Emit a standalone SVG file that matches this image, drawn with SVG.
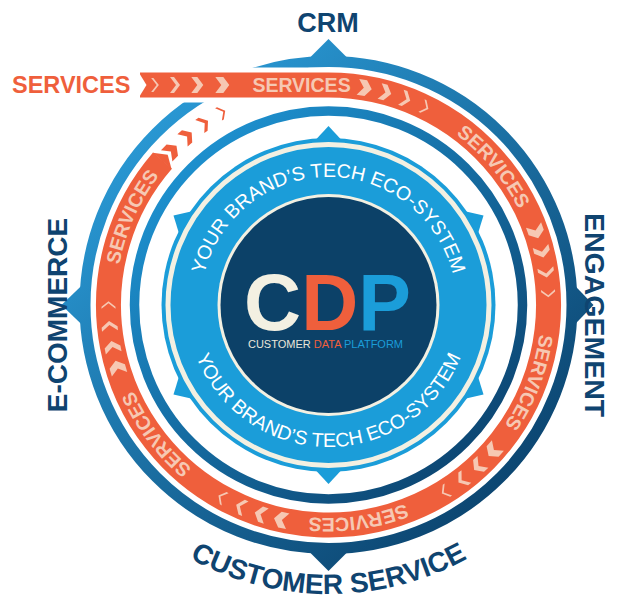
<svg xmlns="http://www.w3.org/2000/svg" xmlns:xlink="http://www.w3.org/1999/xlink" width="620" height="600" viewBox="0 0 620 600">
<style>
.lbl{font-family:"Liberation Sans",Arial,sans-serif;font-weight:bold;fill:#0f4470}
.svc{font-family:"Liberation Sans",Arial,sans-serif;font-weight:bold;font-size:19.5px;fill:#f6c8b3}
.eco{font-family:"Liberation Sans",Arial,sans-serif;font-size:19.5px;fill:#ffffff}
.chev{fill:#f6c8b3}
.ochev{fill:#ef5f3c}
.badgept{fill:#1b9dd9}
</style>
<defs>
<linearGradient id="gOuter" gradientUnits="userSpaceOnUse" x1="-180" y1="-200" x2="180" y2="200">
<stop offset="0" stop-color="#2a9ad6"/>
<stop offset="1" stop-color="#0b436e"/>
</linearGradient>
<linearGradient id="gInner" gradientUnits="userSpaceOnUse" x1="-150" y1="-160" x2="150" y2="160">
<stop offset="0" stop-color="#1e93d2"/>
<stop offset="1" stop-color="#0c4470"/>
</linearGradient>
<polygon id="c1" points="-3.85,-7 -1.65,-7 3.85,0 -1.65,7 -3.85,7 1.65,0"/>
<polygon id="c2" points="-5,-8 -1,-8 5,0 -1,8 -5,8 1,0"/>
<polygon id="c3" points="-6,-8 0,-8 6,0 0,8 -6,8 0,0"/>
<polygon id="c4" points="-7,-8 1,-8 7,0 1,8 -7,8 -1,0"/>
<path id="svcPath" d="M0 -213 A213 213 0 1 1 0 213 A213 213 0 1 1 0 -213"/>
<path id="ecoTop" d="M0 128 A128 128 0 1 1 0 -128 A128 128 0 1 1 0 128"/>
<path id="ecoBot" d="M0 -142 A142 142 0 1 0 0 142 A142 142 0 1 0 0 -142"/>
<path id="csPath" d="M0 -289 A289 289 0 1 0 0 289 A289 289 0 1 0 0 -289"/>
</defs>
<rect width="620" height="600" fill="#ffffff"/>
<g transform="translate(328.5 305)">
<g id="outer-ring">
<circle r="243.5" fill="none" stroke="url(#gOuter)" stroke-width="11"/>
<path d="M-26 -240 L0 -266 L26 -240 Z" fill="url(#gOuter)"/>
<path d="M240 -26 L265 0 L240 26 Z" fill="url(#gOuter)"/>
<path d="M-26 240 L0 266 L26 240 Z" fill="url(#gOuter)"/>
<path d="M-240 -26 L-267 0 L-240 26 Z" fill="url(#gOuter)"/>
</g>
<g id="services-band">
<path d="M-190 -220 H0" fill="none" stroke="#ffffff" stroke-width="35"/>
<path d="M-188.5 -220 H0 A220 220 0 1 1 -166.03 -144.33" fill="none" stroke="#ef5f3c" stroke-width="25"/>
<polygon points="-190,-233 -182,-220 -190,-207" fill="#ffffff"/>
<polygon points="-0.5,-232.5 8,-220 -0.5,-207.5" fill="#ef5f3c" transform="rotate(-49)"/>
<g class="chev">
<use xlink:href="#c1" x="-173.5" y="-220"/>
<use xlink:href="#c2" x="-153.5" y="-220"/>
<use xlink:href="#c3" x="-131.2" y="-220"/>
<use xlink:href="#c4" x="-106.2" y="-220"/>
<use xlink:href="#c4" transform="rotate(9.5) translate(0 -220)"/>
<use xlink:href="#c3" transform="rotate(15) translate(0 -220)"/>
<use xlink:href="#c2" transform="rotate(20.5) translate(0 -220)"/>
<use xlink:href="#c1" transform="rotate(26) translate(0 -220)"/>
<use xlink:href="#c4" transform="rotate(70.5) translate(0 -220)"/>
<use xlink:href="#c3" transform="rotate(76) translate(0 -220)"/>
<use xlink:href="#c2" transform="rotate(81.5) translate(0 -220)"/>
<use xlink:href="#c1" transform="rotate(87) translate(0 -220)"/>
<use xlink:href="#c4" transform="rotate(131.5) translate(0 -220)"/>
<use xlink:href="#c3" transform="rotate(137) translate(0 -220)"/>
<use xlink:href="#c2" transform="rotate(142.5) translate(0 -220)"/>
<use xlink:href="#c1" transform="rotate(148) translate(0 -220)"/>
<use xlink:href="#c4" transform="rotate(192.5) translate(0 -220)"/>
<use xlink:href="#c3" transform="rotate(198) translate(0 -220)"/>
<use xlink:href="#c2" transform="rotate(203.5) translate(0 -220)"/>
<use xlink:href="#c1" transform="rotate(209) translate(0 -220)"/>
<use xlink:href="#c4" transform="rotate(253.5) translate(0 -220)"/>
<use xlink:href="#c3" transform="rotate(259) translate(0 -220)"/>
<use xlink:href="#c2" transform="rotate(264.5) translate(0 -220)"/>
<use xlink:href="#c1" transform="rotate(270) translate(0 -220)"/>
</g>
<g class="ochev">
<use xlink:href="#c4" transform="rotate(314.5) translate(0 -220)"/>
<use xlink:href="#c3" transform="rotate(320) translate(0 -220)"/>
<use xlink:href="#c2" transform="rotate(325.5) translate(0 -220)"/>
<use xlink:href="#c1" transform="rotate(331) translate(0 -220)"/>
</g>
<text class="svc" x="-27" y="-213" text-anchor="middle">SERVICES</text>
<text class="svc" text-anchor="middle"><textPath xlink:href="#svcPath" startOffset="185.9">SERVICES</textPath></text>
<text class="svc" text-anchor="middle"><textPath xlink:href="#svcPath" startOffset="412.7">SERVICES</textPath></text>
<text class="svc" text-anchor="middle"><textPath xlink:href="#svcPath" startOffset="639.4">SERVICES</textPath></text>
<text class="svc" text-anchor="middle"><textPath xlink:href="#svcPath" startOffset="866.2">SERVICES</textPath></text>
<text class="svc" text-anchor="middle"><textPath xlink:href="#svcPath" startOffset="1093">SERVICES</textPath></text>
</g>
<g id="services-label">
<text x="-316.5" y="-212.3" font-family="Liberation Sans, Arial, sans-serif" font-weight="bold" font-size="23.5" fill="#ef5f3c">SERVICES</text>
</g>
<g id="inner-ring">
<circle r="194" fill="none" stroke="url(#gInner)" stroke-width="9.5"/>
</g>
<g id="badge">
<circle r="167" fill="#1b9dd9"/>
<path class="badgept" d="M-13 -165 L0 -179 L13 -165 Z"/>
<path class="badgept" d="M-13 -165 L0 -179 L13 -165 Z" transform="rotate(60)"/>
<path class="badgept" d="M-13 -165 L0 -179 L13 -165 Z" transform="rotate(120)"/>
<path class="badgept" d="M-13 -165 L0 -179 L13 -165 Z" transform="rotate(180)"/>
<path class="badgept" d="M-13 -165 L0 -179 L13 -165 Z" transform="rotate(240)"/>
<path class="badgept" d="M-13 -165 L0 -179 L13 -165 Z" transform="rotate(300)"/>
<circle r="160.5" fill="none" stroke="#f3f0e2" stroke-width="5"/>
<text class="eco" text-anchor="middle"><textPath xlink:href="#ecoTop" startOffset="50%">YOUR BRAND’S TECH ECO-SYSTEM</textPath></text>
<text class="eco" text-anchor="middle" font-size="21"><textPath xlink:href="#ecoBot" startOffset="50%">YOUR BRAND’S TECH ECO-SYSTEM</textPath></text>
</g>
<g id="cdp">
<circle r="111" fill="#f3f0e2"/>
<circle r="108" fill="#0c4168"/>
<text x="-1" y="25" text-anchor="middle" font-family="Liberation Sans, Arial, sans-serif" font-weight="bold" font-size="79"><tspan fill="#f3f0e2">C</tspan><tspan fill="#ef5f3c">D</tspan><tspan fill="#1b9dd9">P</tspan></text>
<text x="-3" y="43.3" text-anchor="middle" font-family="Liberation Sans, Arial, sans-serif" font-size="11"><tspan fill="#e9e6da">CUSTOMER </tspan><tspan fill="#ef5f3c">DATA </tspan><tspan fill="#1b9dd9">PLATFORM</tspan></text>
</g>
<g id="crm">
<text class="lbl" x="-0.5" y="-273" text-anchor="middle" font-size="27">CRM</text>
</g>
<g id="engagement">
<text class="lbl" transform="translate(256.5 10) rotate(90)" text-anchor="middle" font-size="28.5">ENGAGEMENT</text>
</g>
<g id="ecommerce">
<text class="lbl" transform="translate(-261.8 10) rotate(-90)" text-anchor="middle" font-size="28">E-COMMERCE</text>
</g>
<g id="customer-service">
<text class="lbl" text-anchor="middle" font-size="28"><textPath xlink:href="#csPath" startOffset="50%">CUSTOMER SERVICE</textPath></text>
</g>
</g>
<g id="connectors"/>
</svg>
